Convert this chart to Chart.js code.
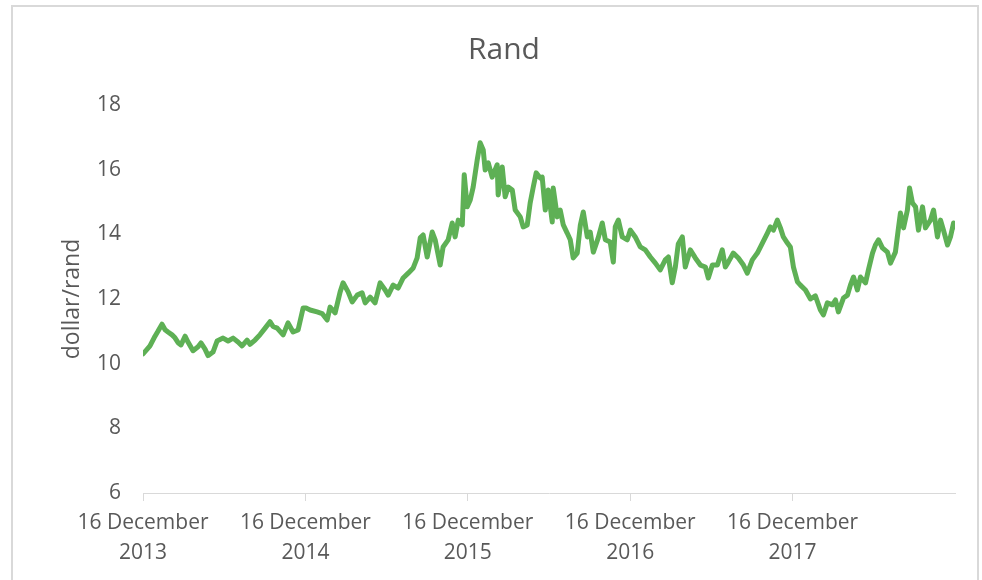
<!DOCTYPE html>
<html lang="en">
<head>
    <meta charset="UTF-8">
    <title>Rand</title>
    <script src="https://cdn.jsdelivr.net/npm/chart.js"></script>
    <style>
        body {
            margin: 0;
            padding: 0;
            background-color: #fff;
            width: 982px;
            height: 580px;
            overflow: hidden;
            position: relative;
        }
        .frame {
            position: absolute;
            left: 11px;
            top: 5px;
            width: 964px;
            height: 600px;
            border: 2px solid #d9d9d9;
        }
        canvas {
            position: absolute;
            left: 0;
            top: 0;
        }
    </style>
</head>
<body>
    <div class="frame"></div>
    <canvas id="randChart" width="982" height="580"></canvas>

    <script>
        // years since 16 December 2013
        var years = [
            0.000, 0.043, 0.074, 0.092, 0.117, 0.136, 0.154, 0.179, 0.197, 0.216,
            0.234, 0.259, 0.277, 0.308, 0.339, 0.357, 0.382, 0.400, 0.431, 0.456,
            0.493, 0.524, 0.555, 0.585, 0.610, 0.641, 0.659, 0.690, 0.721, 0.752,
            0.782, 0.801, 0.826, 0.863, 0.893, 0.924, 0.955, 0.986, 1.004, 1.029,
            1.072, 1.103, 1.134, 1.152, 1.183, 1.214, 1.232, 1.263, 1.288, 1.319,
            1.349, 1.368, 1.399, 1.429, 1.460, 1.491, 1.510, 1.540, 1.571, 1.602,
            1.633, 1.664, 1.688, 1.707, 1.725, 1.750, 1.781, 1.799, 1.830, 1.848,
            1.879, 1.904, 1.922, 1.941, 1.966, 1.978, 1.996, 2.015, 2.033, 2.058,
            2.076, 2.095, 2.107, 2.126, 2.150, 2.181, 2.187, 2.212, 2.230, 2.249,
            2.274, 2.292, 2.323, 2.341, 2.366, 2.384, 2.403, 2.421, 2.446, 2.458,
            2.477, 2.495, 2.520, 2.526, 2.551, 2.569, 2.588, 2.612, 2.631, 2.649,
            2.674, 2.693, 2.711, 2.736, 2.754, 2.773, 2.803, 2.828, 2.847, 2.877,
            2.896, 2.908, 2.927, 2.951, 2.982, 3.001, 3.031, 3.062, 3.093, 3.124,
            3.155, 3.185, 3.216, 3.235, 3.259, 3.278, 3.296, 3.321, 3.339, 3.370,
            3.401, 3.432, 3.463, 3.481, 3.506, 3.537, 3.567, 3.586, 3.604, 3.635,
            3.666, 3.697, 3.721, 3.752, 3.783, 3.814, 3.845, 3.863, 3.882, 3.906,
            3.925, 3.943, 3.968, 3.986, 4.005, 4.030, 4.048, 4.079, 4.110, 4.140,
            4.171, 4.190, 4.214, 4.245, 4.264, 4.282, 4.313, 4.338, 4.356, 4.375,
            4.399, 4.418, 4.449, 4.467, 4.492, 4.510, 4.529, 4.553, 4.584, 4.603,
            4.633, 4.652, 4.664, 4.683, 4.707, 4.720, 4.738, 4.757, 4.775, 4.800,
            4.818, 4.849, 4.868, 4.892, 4.911, 4.929, 4.954, 4.972, 4.991, 5.000
        ];
        var rates = [
            10.30, 10.55, 10.85, 11.00, 11.22, 11.05, 10.98, 10.89, 10.80, 10.65,
            10.58, 10.85, 10.67, 10.40, 10.52, 10.64, 10.45, 10.25, 10.36, 10.70,
            10.79, 10.70, 10.79, 10.67, 10.55, 10.73, 10.60, 10.73, 10.90, 11.10,
            11.30, 11.15, 11.10, 10.89, 11.26, 10.98, 11.04, 11.72, 11.72, 11.66,
            11.60, 11.55, 11.35, 11.75, 11.57, 12.22, 12.50, 12.22, 11.91, 12.12,
            12.19, 11.88, 12.06, 11.88, 12.50, 12.28, 12.12, 12.43, 12.34, 12.65,
            12.80, 12.96, 13.27, 13.89, 13.98, 13.30, 14.07, 13.83, 13.05, 13.61,
            13.83, 14.35, 13.92, 14.44, 14.29, 15.84, 14.85, 15.06, 15.46, 16.30,
            16.83, 16.61, 15.99, 16.21, 15.77, 16.15, 15.22, 16.08, 15.16, 15.46,
            15.37, 14.75, 14.54, 14.23, 14.29, 14.97, 15.46, 15.90, 15.74, 15.77,
            14.75, 15.37, 14.38, 15.43, 14.54, 14.75, 14.29, 14.04, 13.83, 13.27,
            13.42, 14.29, 14.69, 13.92, 14.07, 13.45, 13.89, 14.35, 13.83, 13.76,
            13.14, 14.23, 14.44, 13.92, 13.83, 14.13, 13.92, 13.61, 13.52, 13.30,
            13.11, 12.90, 13.21, 13.30, 12.50, 12.99, 13.70, 13.92, 12.99, 13.52,
            13.27, 13.05, 12.99, 12.65, 13.05, 13.05, 13.52, 12.99, 13.14, 13.42,
            13.27, 13.05, 12.80, 13.21, 13.42, 13.73, 14.04, 14.23, 14.13, 14.44,
            14.20, 13.92, 13.73, 13.61, 12.99, 12.53, 12.43, 12.28, 12.00, 12.10,
            11.66, 11.51, 11.88, 11.82, 11.97, 11.60, 12.03, 12.12, 12.43, 12.68,
            12.28, 12.68, 12.50, 12.90, 13.42, 13.67, 13.83, 13.58, 13.45, 13.11,
            13.45, 14.20, 14.66, 14.20, 14.75, 15.43, 14.97, 14.85, 14.13, 14.85,
            14.20, 14.44, 14.75, 13.92, 14.44, 14.13, 13.67, 13.92, 14.35, 14.23
        ];
        var tickYears = [0, 1, 2, 3, 4];
        var tickLabels = [
            ['16 December', '2013'],
            ['16 December', '2014'],
            ['16 December', '2015'],
            ['16 December', '2016'],
            ['16 December', '2017']
        ];

        var points = years.map(function(t, i) {
            return { x: t, y: rates[i] };
        });

        // the title sits over the middle of the whole frame, not the plot
        var centreTitle = {
            id: 'centreTitle',
            afterLayout: function(chart) {
                if (chart.titleBlock) {
                    chart.titleBlock.left = 53;
                    chart.titleBlock.right = 955;
                }
            }
        };

        var textColor = '#595959';
        var ctx = document.getElementById('randChart').getContext('2d');
        var randChart = new Chart(ctx, {
            type: 'line',
            data: {
                datasets: [{
                    label: 'Rand',
                    data: points,
                    borderColor: '#5eb055',
                    borderWidth: 5,
                    pointRadius: 0,
                    tension: 0,
                    borderJoinStyle: 'round',
                    borderCapStyle: 'round',
                    fill: false
                }]
            },
            options: {
                responsive: false,
                animation: false,
                layout: {
                    padding: { left: 0, right: 27, top: 0, bottom: 0 }
                },
                plugins: {
                    legend: { display: false },
                    tooltip: { enabled: false },
                    title: {
                        display: true,
                        text: 'Rand',
                        color: textColor,
                        font: { family: 'Open Sans', size: 30, weight: 'normal', lineHeight: 1.2 },
                        padding: { top: 32, bottom: 37 }
                    }
                },
                scales: {
                    x: {
                        type: 'linear',
                        min: 0,
                        max: 5,
                        afterFit: function(scale) { scale.height = 87; },
                        afterBuildTicks: function(scale) {
                            scale.ticks = tickYears.map(function(v) { return { value: v }; });
                        },
                        grid: {
                            drawOnChartArea: false,
                            drawTicks: true,
                            tickLength: 8,
                            color: '#d9d9d9'
                        },
                        border: { display: true, color: '#d9d9d9', width: 1 },
                        ticks: {
                            autoSkip: false,
                            maxRotation: 0,
                            padding: 7,
                            color: textColor,
                            font: { family: 'Open Sans', size: 21, lineHeight: 1.43 },
                            callback: function(value, index) { return tickLabels[index]; }
                        }
                    },
                    y: {
                        min: 6,
                        max: 18,
                        afterFit: function(scale) { scale.width = 143; },
                        grid: { display: false, drawTicks: false },
                        border: { display: false },
                        ticks: {
                            stepSize: 2,
                            padding: 22,
                            color: textColor,
                            font: { family: 'Open Sans', size: 21 }
                        },
                        title: {
                            display: true,
                            text: 'dollar/rand',
                            color: textColor,
                            font: { family: 'Open Sans', size: 23, lineHeight: 1.2 },
                            padding: { top: 59, bottom: 0 }
                        }
                    }
                }
            },
            plugins: [centreTitle]
        });
    </script>
</body>
</html>
